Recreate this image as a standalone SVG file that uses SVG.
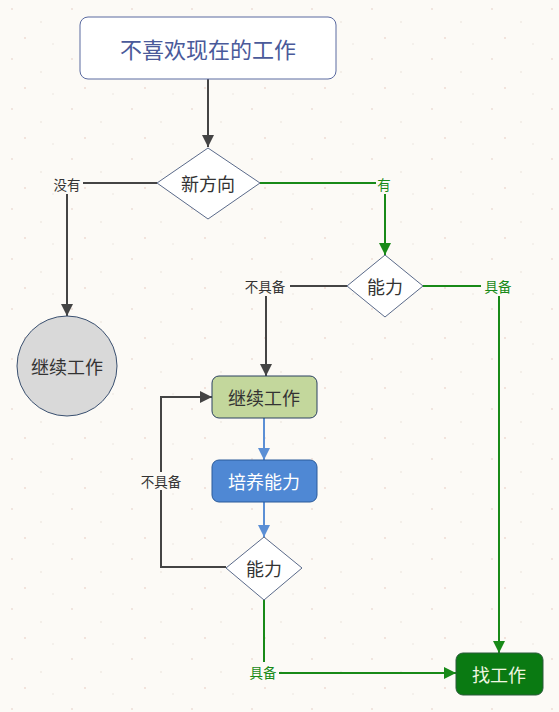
<svg xmlns="http://www.w3.org/2000/svg" width="559" height="712" viewBox="0 0 559 712">
<style>
text{font-family:"Noto Sans CJK SC","Noto Sans",sans-serif;text-anchor:middle;dominant-baseline:central}
.dk{stroke:#444;stroke-width:2;fill:none}
.gr{stroke:#188a18;stroke-width:2;fill:none}
.bl{stroke:#5b8fd5;stroke-width:2;fill:none}
.lbl{font-size:13.5px;fill:#333}
.lblg{font-size:13.5px;fill:#188a18}
.dia{fill:#fff;stroke:#5a6a8a;stroke-width:1}
.n{font-size:18px;fill:#333}
</style>
<defs>
<pattern id="spk" width="60" height="50" patternUnits="userSpaceOnUse">
<rect width="60" height="50" fill="#fcfaf6"/>
<circle cx="12" cy="9" r="0.9" fill="#ecdcd4"/>
<circle cx="41" cy="22" r="0.8" fill="#e8e0d8"/>
<circle cx="25" cy="38" r="0.9" fill="#eed8d0"/>
<circle cx="53" cy="44" r="0.7" fill="#e6e0d8"/>
</pattern>
<marker id="ad" viewBox="0 0 10 10" refX="10" refY="5" markerWidth="6" markerHeight="6" orient="auto"><path d="M0,0L10,5L0,10z" fill="#444"/></marker>
<marker id="ag" viewBox="0 0 10 10" refX="10" refY="5" markerWidth="6" markerHeight="6" orient="auto"><path d="M0,0L10,5L0,10z" fill="#188a18"/></marker>
<marker id="ab" viewBox="0 0 10 10" refX="10" refY="5" markerWidth="6" markerHeight="6" orient="auto"><path d="M0,0L10,5L0,10z" fill="#5b8fd5"/></marker>
</defs>
<rect width="559" height="712" fill="url(#spk)"/>
<g id="connectors">
<path class="dk" d="M208,79V147" marker-end="url(#ad)"/>
<path class="dk" d="M157,183H83"/>
<path class="dk" d="M67,194V316" marker-end="url(#ad)"/>
<path class="gr" d="M260,183H376"/>
<path class="gr" d="M385,194V255" marker-end="url(#ag)"/>
<path class="dk" d="M347,286H290"/>
<path class="dk" d="M266,296V376" marker-end="url(#ad)"/>
<path class="gr" d="M423,286H481"/>
<path class="gr" d="M499,296V653" marker-end="url(#ag)"/>
<path class="bl" d="M264,418V460" marker-end="url(#ab)"/>
<path class="bl" d="M264,502V537" marker-end="url(#ab)"/>
<path class="dk" d="M226,567H161V397H212" marker-end="url(#ad)"/>
<path class="gr" d="M264,600V662"/>
<path class="gr" d="M279,673H456" marker-end="url(#ag)"/>
<rect x="138" y="472" width="46" height="18" fill="#fcfaf6"/>
<text class="lbl" x="67" y="184">没有</text>
<text class="lblg" x="384" y="184">有</text>
<text class="lbl" x="265" y="286">不具备</text>
<text class="lblg" x="498" y="286">具备</text>
<text class="lbl" x="161" y="481">不具备</text>
<text class="lblg" x="263" y="672">具备</text>
</g>
<g id="start">
<rect x="80" y="17" width="256" height="62" rx="8" fill="#fff" stroke="#5a6aa0" stroke-width="1"/>
<text x="208" y="48" style="font-size:22px;fill:#4a5a9a">不喜欢现在的工作</text>
</g>
<g id="d1">
<polygon class="dia" points="208,148 260,183 208,219 157,183"/>
<text class="n" x="208" y="183">新方向</text>
</g>
<g id="keep1">
<circle cx="67" cy="366" r="50" fill="#d9d9d9" stroke="#3a5070" stroke-width="1"/>
<text class="n" x="67" y="366">继续工作</text>
</g>
<g id="d2">
<polygon class="dia" points="385,255 423,286 385,317 347,286"/>
<text class="n" x="385" y="286">能力</text>
</g>
<g id="keep2">
<rect x="212" y="376" width="105" height="42" rx="7" fill="#c3d79c" stroke="#2a4060" stroke-width="1"/>
<text class="n" x="264" y="397">继续工作</text>
</g>
<g id="train">
<rect x="212" y="460" width="105" height="42" rx="7" fill="#4f88d4" stroke="#2a5a9a" stroke-width="1"/>
<text class="n" x="264" y="481" style="fill:#fff">培养能力</text>
</g>
<g id="d3">
<polygon class="dia" points="264,537 302,568 264,600 226,568"/>
<text class="n" x="264" y="568">能力</text>
</g>
<g id="find">
<rect x="456" y="653" width="87" height="42" rx="7" fill="#0a7a12" stroke="#2a5a3a" stroke-width="1"/>
<text class="n" x="499" y="674" style="fill:#f0f6e0">找工作</text>
</g>
</svg>
